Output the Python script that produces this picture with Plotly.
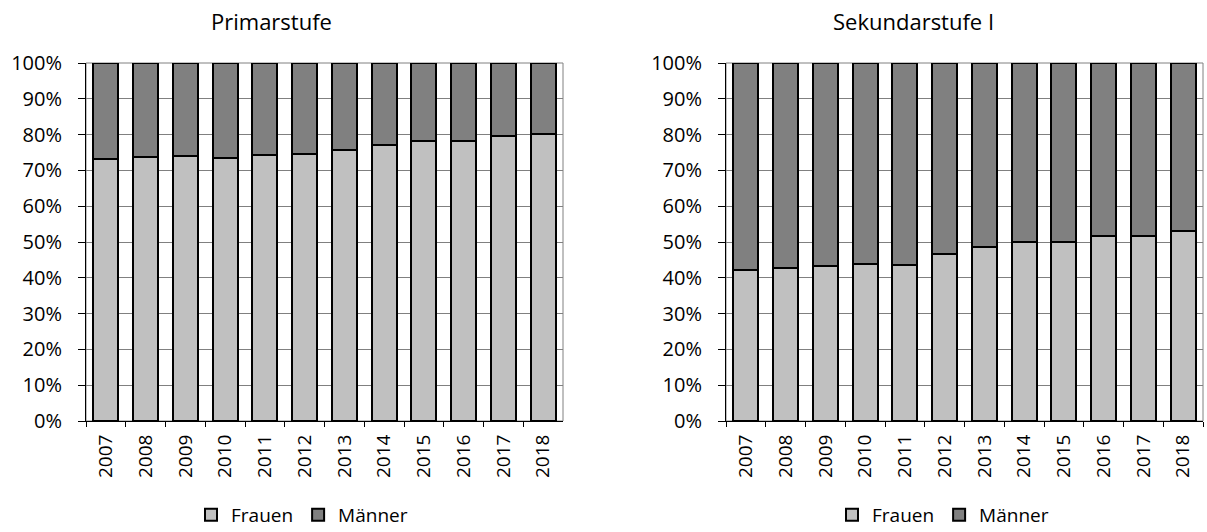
import plotly.graph_objects as go

years = ["2007", "2008", "2009", "2010", "2011", "2012", "2013", "2014", "2015", "2016", "2017", "2018"]
prim_frauen = [73.1, 73.8, 74.0, 73.5, 74.4, 74.7, 75.8, 77.2, 78.1, 78.2, 79.5, 80.1]
prim_maenner = [26.9, 26.2, 26.0, 26.5, 25.6, 25.3, 24.2, 22.8, 21.9, 21.8, 20.5, 19.9]
sek_frauen = [42.2, 42.6, 43.4, 43.9, 43.7, 46.6, 48.6, 50.1, 50.1, 51.8, 51.7, 53.1]
sek_maenner = [57.8, 57.4, 56.6, 56.1, 56.3, 53.4, 51.4, 49.9, 49.9, 48.2, 48.3, 46.9]
y_ticks = [0, 10, 20, 30, 40, 50, 60, 70, 80, 90, 100]
y_tick_labels = [f"{v}%" for v in y_ticks]
titles = ["Primarstufe", "Sekundarstufe I"]

FONT = "Open Sans"
C_F = "#C0C0C0"
C_M = "#808080"

fig = go.Figure()
line = dict(color="black", width=2)
fig.add_bar(x=years, y=prim_frauen, name="Frauen", marker=dict(color=C_F, line=line),
            xaxis="x", yaxis="y", legend="legend")
fig.add_bar(x=years, y=prim_maenner, name="Männer", marker=dict(color=C_M, line=line),
            xaxis="x", yaxis="y", legend="legend")
fig.add_bar(x=years, y=sek_frauen, name="Frauen", marker=dict(color=C_F, line=line),
            xaxis="x2", yaxis="y2", legend="legend2")
fig.add_bar(x=years, y=sek_maenner, name="Männer", marker=dict(color=C_M, line=line),
            xaxis="x2", yaxis="y2", legend="legend2")

W, H = 1207, 532
ydom = [1 - 421 / H, 1 - 63 / H]
xdom1 = [86 / W, 563 / W]
xdom2 = [726 / W, 1203 / W]

xax = dict(type="category", tickangle=-90, tickson="boundaries", ticks="outside",
           ticklen=5, tickcolor="black", showline=True, linecolor="black", linewidth=1,
           showgrid=False, automargin=False, ticklabelstandoff=5,
           tickfont=dict(family=FONT, size=19, color="black"), zeroline=False)
yax = dict(range=[0, 100], tickmode="array", tickvals=y_ticks, ticktext=y_tick_labels,
           ticks="outside", ticklen=7, automargin=False, ticklabelstandoff=12,
           tickcolor="black", showline=True, linecolor="black", linewidth=1,
           showgrid=True, gridcolor="#808080", gridwidth=1, zeroline=False,
           tickfont=dict(family=FONT, size=20, color="black"), domain=ydom)

leg = dict(orientation="h", y=1 - 515 / H, xanchor="center", yanchor="middle",
           font=dict(family=FONT, size=19, color="black"), itemwidth=30,
           traceorder="normal", bgcolor="rgba(0,0,0,0)")

fig.update_layout(
    template="none",
    width=W, height=H, barmode="stack", bargap=0.37,
    margin=dict(l=0, r=0, t=0, b=0, autoexpand=False),
    paper_bgcolor="white", plot_bgcolor="white",
    font=dict(family=FONT, color="black"),
    xaxis=dict(xax, domain=xdom1, anchor="y"),
    yaxis=dict(yax, anchor="x"),
    xaxis2=dict(xax, domain=xdom2, anchor="y2"),
    yaxis2=dict(yax, anchor="x2"),
    legend=dict(leg, x=302 / W),
    legend2=dict(leg, x=943 / W),
    showlegend=True,
)

for t, cx in zip(titles, [271, 913]):
    fig.add_annotation(text=t, x=cx / W, y=1 - 21 / H, xref="paper", yref="paper",
                       showarrow=False, xanchor="center", yanchor="middle",
                       font=dict(family=FONT, size=22, color="black"))

for xr, yr in [("x domain", "y domain"), ("x2 domain", "y2 domain")]:
    fig.add_shape(type="rect", xref=xr, yref=yr, x0=0, x1=1, y0=0, y1=1,
                  line=dict(color="#808080", width=1), layer="below")

fig.write_html("out.html", config={"displayModeBar": False},
               post_script="document.body.style.margin='0';")
